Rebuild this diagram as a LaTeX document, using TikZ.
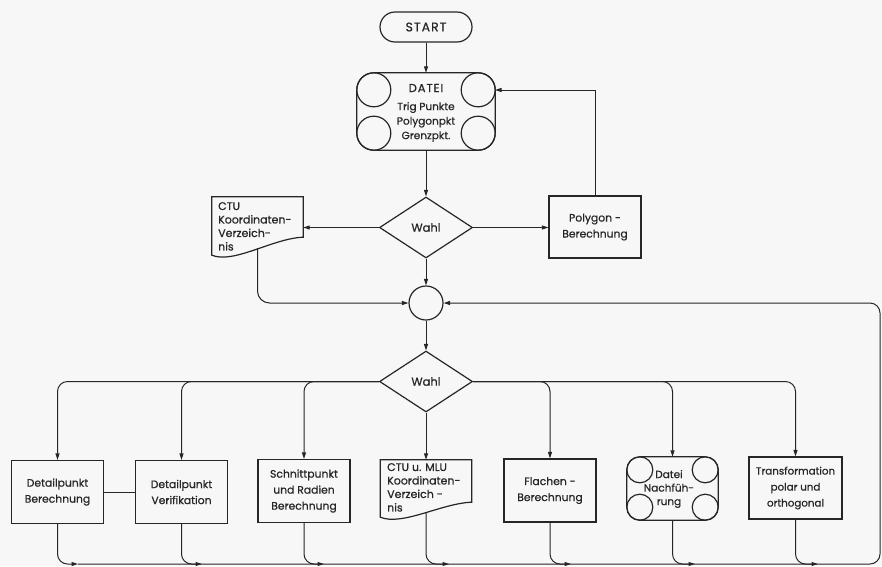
\documentclass[tikz,border=0pt]{standalone}
\usepackage{fontspec}
\setmainfont{Poppins}[FakeBold=0.6]
\usetikzlibrary{shapes.geometric,shapes.misc,arrows.meta,calc}
\begin{document}
\begin{tikzpicture}[x=1pt,y=-1pt,
  every node/.style={font=\fontsize{10.8}{16}\selectfont, inner sep=0pt, text=black!85},
  ln/.style={line width=1pt, draw=black!85},
  arr/.style={ln,-{Triangle[length=6.5pt,width=4pt]}},
  outl/.style={line width=1.2pt, draw=black!85},
  box/.style={outl, draw, align=center, minimum width=92pt, minimum height=63pt},
  wahlbox/.style={outl, draw, diamond, aspect=1.52, minimum width=93pt, minimum height=61pt,
                  font=\fontsize{11.5}{14}\selectfont},
  doctext/.style={align=left, anchor=north west, font=\fontsize{11}{13.5}\selectfont},
  rc/.style={rounded corners=10pt}
]
\fill[black!3] (0,0) rectangle (882,566);
\useasboundingbox (0,0) rectangle (882,566);

% ---------- top part ----------
\node[outl, draw, rounded rectangle, minimum width=92pt, minimum height=30pt,
      font=\fontsize{12.5}{14}\selectfont\addfontfeature{LetterSpace=8}] (start) at (426,27) {START};

\node[draw=none, minimum width=138pt, minimum height=77pt] (datei) at (426,111.5) {};
\draw[outl, rounded corners=17pt] (datei.north west) rectangle (datei.south east);
\draw[outl] ($(datei.north west)+(17,17)$) circle[radius=17pt];
\draw[outl] ($(datei.south west)+(17,-17)$) circle[radius=17pt];
\draw[outl] ($(datei.north east)+(-17,17)$) circle[radius=17pt];
\draw[outl] ($(datei.south east)+(-17,-17)$) circle[radius=17pt];
\node[font=\fontsize{11.5}{14}\selectfont\addfontfeature{LetterSpace=8}] (dateiT) at (426,88) {DATEI};
\node[align=center, font=\fontsize{10.5}{14.5}\selectfont] (dateiL) at (426,122) {Trig Punkte\\Polygonpkt\\Grenzpkt.};
\coordinate (dateiIn) at (495,90);

\node[wahlbox] (wahl1) at (426,227.5) {Wahl};

\node[draw=none, minimum width=91pt, minimum height=58pt] (ctu1) at (257.5,226) {};
\draw[outl] (ctu1.north west) -- (ctu1.north east) -- ($(ctu1.south east)+(0,-18)$)
   .. controls ($(ctu1.south east)+(-30,-17)$) and ($(ctu1.south west)+(22,9)$) .. (ctu1.south west) -- cycle;
\node[doctext] (ctu1T) at (218,202) {CTU\\Koordinaten-\\Verzeich-\\nis};

\node[box, minimum width=92pt, minimum height=62pt] (poly) at (595,227) {Polygon -\\Berechnung};

\node[outl, draw, circle, minimum size=34pt] (conn) at (426,303) {};

\node[wahlbox] (wahl2) at (426,381.5) {Wahl};

% ---------- bottom boxes ----------
\node[box] (b1) at (57.5,492) {Detailpunkt\\Berechnung};
\node[box] (b2) at (181.5,492) {Detailpunkt\\Verifikation};
\node[box] (b3) at (304,491) {Schnittpunkt\\und Radien\\Berechnung};

\node[draw=none, minimum width=91pt, minimum height=57pt] (b4) at (426,488.5) {};
\draw[outl] (b4.north west) -- (b4.north east) -- ($(b4.south east)+(0,-15)$)
   .. controls ($(b4.south east)+(-30,-14)$) and ($(b4.south west)+(22,9)$) .. (b4.south west) -- cycle;
\node[doctext] (b4T) at (387,463) {CTU u. MLU\\Koordinaten-\\Verzeich -\\nis};

\node[box] (b5) at (550,490.5) {Flachen -\\Berechnung};

\node[draw=none, minimum width=91pt, minimum height=63pt] (b6) at (672.5,488.5) {};
\draw[outl, rounded corners=13pt] (b6.north west) rectangle (b6.south east);
\draw[outl] ($(b6.north west)+(13,13)$) circle[radius=13pt];
\draw[outl] ($(b6.south west)+(13,-13)$) circle[radius=13pt];
\draw[outl] ($(b6.north east)+(-13,13)$) circle[radius=13pt];
\draw[outl] ($(b6.south east)+(-13,-13)$) circle[radius=13pt];
\node[align=center, font=\fontsize{10.5}{13.5}\selectfont] (b6T) at (669,489) {Datei\\Nachfüh-\\rung};

\node[box, minimum width=93pt, minimum height=62pt, font=\fontsize{10.3}{16}\selectfont] (b7) at (795.5,488) {Transformation\\polar und\\orthogonal};

% ---------- connectors, top ----------
\draw[arr] (start.south) -- (datei.north);
\draw[arr] (datei.south) -- (wahl1.north);
\draw[arr] (wahl1.west) -- (wahl1.west -| ctu1.east);
\draw[arr] (wahl1.east) -- (wahl1.east -| poly.west);
\draw[arr] (poly.north) |- (dateiIn);
\draw[arr] (wahl1.south) -- (conn.north);
\draw[arr, rounded corners=12pt] ($(ctu1.south)+(0,-7)$) |- (conn.west);
\draw[arr] (conn.south) -- (wahl2.north);

% ---------- branches ----------
\draw[arr, rc] (wahl2.west) -| (b1.north);
\draw[arr, rc] (wahl2.west) -| (b2.north);
\draw[arr, rc] (wahl2.west) -| (b3.north);
\draw[arr] (wahl2.south) -- (b4.north);
\draw[arr, rc] (wahl2.east) -| (b5.north);
\draw[arr, rc] (wahl2.east) -| (b6.north);
\draw[arr, rc] (wahl2.east) -| (b7.north);
\draw[ln] (b1.east) -- (b2.west);

% ---------- collecting bus ----------
\coordinate (a1) at (78,564);
\coordinate (a2) at (202,564);
\coordinate (a3) at (324,564);
\coordinate (a4) at (449,564);
\coordinate (a5) at (571,564);
\coordinate (a6) at (695,564);
\coordinate (a7) at (818,564);
\coordinate (busBR) at (880,564);
\draw[arr, rc] (b1.south) |- (a1);
\draw[arr, rc] (b2.south) |- (a2);
\draw[arr, rc] (b3.south) |- (a3);
\draw[arr, rc] ($(b4.south)+(0,-4)$) |- (a4);
\draw[arr, rc] (b5.south) |- (a5);
\draw[arr, rc] (b6.south) |- (a6);
\draw[arr, rc] (b7.south) |- (a7);
\draw[arr, rc] (a1) -- (busBR) |- (conn.east);
\end{tikzpicture}
\end{document}
